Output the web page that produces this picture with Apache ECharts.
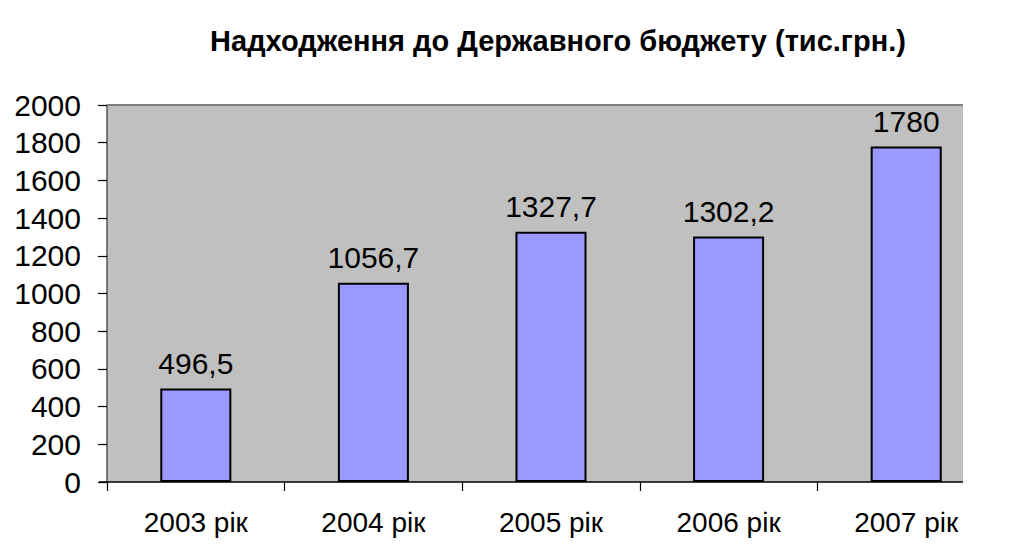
<!DOCTYPE html>
<html>
<head>
<meta charset="utf-8">
<script src="https://cdn.jsdelivr.net/npm/echarts@6/dist/echarts.min.js"></script>
<style>
  html, body { margin: 0; padding: 0; background: #fff; }
  #chart { width: 1009px; height: 558px; }
</style>
</head>
<body>
<div id="chart"></div>
<script>
var categories = ['2003 рік', '2004 рік', '2005 рік', '2006 рік', '2007 рік'];
var values = [496.5, 1056.7, 1327.7, 1302.2, 1780];
var labels = ['496,5', '1056,7', '1327,7', '1302,2', '1780'];

var chart = echarts.init(document.getElementById('chart'), null, { renderer: 'svg' });
chart.setOption({
  animation: false,
  title: {
    text: 'Надходження до Державного бюджету (тис.грн.)',
    left: 553, top: 21, textAlign: 'center',
    textStyle: { fontFamily: 'Liberation Sans', fontWeight: 'bold', fontSize: 29, color: '#000' }
  },
  // the category axis runs past the clipped grey plot area, as in the original
  grid: { left: 107, right: 14, top: 105, bottom: 76, show: false },
  xAxis: {
    type: 'category',
    data: categories,
    axisLine: { show: false },
    axisTick: { show: true, length: 9, lineStyle: { color: '#000', width: 1.2 } },
    axisLabel: { margin: 26, fontFamily: 'Liberation Sans', fontSize: 28, color: '#000' }
  },
  yAxis: {
    type: 'value', min: 0, max: 2000, interval: 200,
    axisLine: { show: true, lineStyle: { color: '#555', width: 1.5 } },
    axisTick: { show: true, length: 9, lineStyle: { color: '#000', width: 1.2 } },
    splitLine: { show: false },
    axisLabel: {
      margin: 26, fontFamily: 'Liberation Sans', fontSize: 30, color: '#000',
      formatter: function (v) { return String(v); }
    }
  },
  series: [{
    type: 'bar',
    data: values,
    barWidth: '40%',
    itemStyle: { color: '#9999FF', borderColor: '#000', borderWidth: 2 },
    label: {
      show: true, position: 'top', distance: 10,
      fontFamily: 'Liberation Sans', fontSize: 30, color: '#000',
      formatter: function (p) { return labels[p.dataIndex]; }
    }
  }],
  graphic: [
    { type: 'rect', z: -10, shape: { x: 107, y: 105, width: 856, height: 377 }, style: { fill: '#C0C0C0' } },
    { type: 'line', z: 10, shape: { x1: 107, y1: 105, x2: 963, y2: 105 }, style: { stroke: '#808080', lineWidth: 2 } },
    { type: 'rect', z: 10, shape: { x: 964, y: 478, width: 45, height: 22 }, style: { fill: '#fff' } },
    { type: 'line', z: 11, shape: { x1: 99, y1: 482, x2: 963, y2: 482 }, style: { stroke: '#000', lineWidth: 1.5 } }
  ]
});
</script>
</body>
</html>
